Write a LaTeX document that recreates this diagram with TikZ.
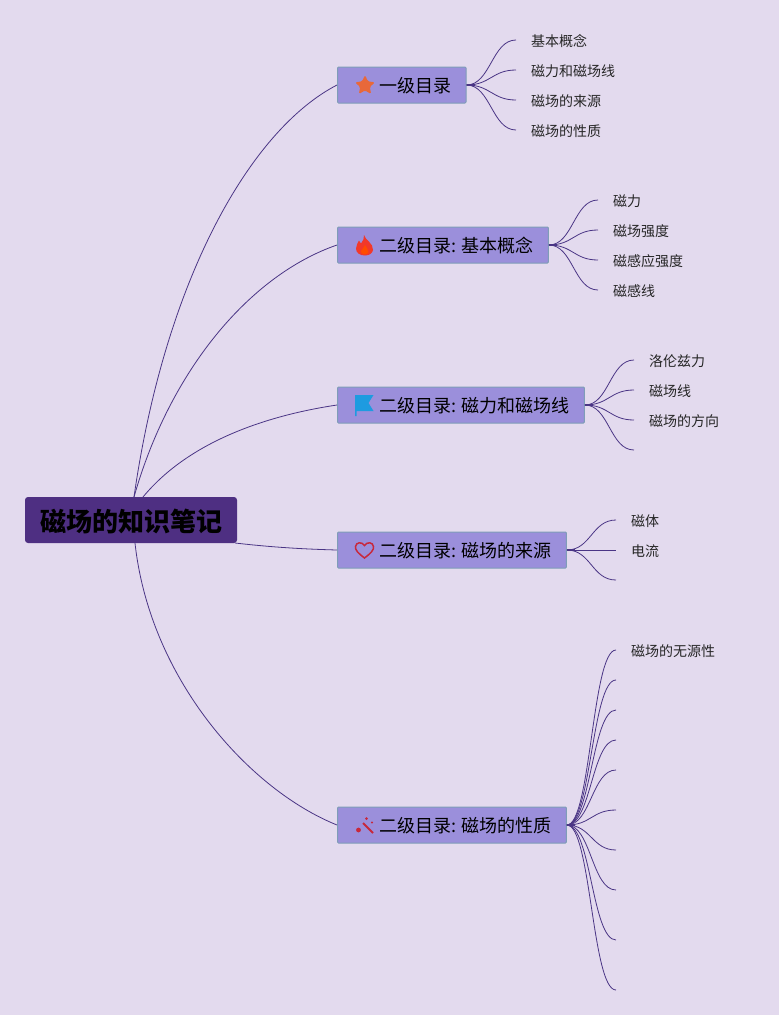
\documentclass[tikz,border=0pt]{standalone}
\usepackage{fontspec}
\setmainfont{Noto Sans CJK SC}
\usetikzlibrary{positioning,shapes.geometric}
\definecolor{paper}{HTML}{E3DAEE}
\definecolor{rootfill}{HTML}{4E2F82}
\definecolor{boxfill}{HTML}{9B8FDB}
\definecolor{boxedge}{HTML}{7F9DB8}
\definecolor{wire}{HTML}{4A3585}
\definecolor{staricon}{HTML}{E8683A}
\definecolor{flagicon}{HTML}{1E9BE0}
\definecolor{flameicon}{HTML}{F2382A}
\definecolor{wandicon}{HTML}{C8283C}
\tikzset{
  rootbox/.style={fill=rootfill,rounded corners=3pt,minimum width=212pt,minimum height=46pt,inner sep=0pt,text height=25pt,text depth=3pt,font=\fontsize{26}{30}\selectfont\bfseries},
  catbox/.style={draw=boxedge,line width=1pt,fill=boxfill,rounded corners=1pt,anchor=west,minimum height=36pt,inner xsep=0pt,text height=17pt,text depth=2pt,font=\fontsize{18}{22}\selectfont},
  leaf/.style={anchor=west,inner sep=0pt,outer xsep=15pt,text height=14pt,text depth=1.6pt,font=\fontsize{14}{18}\selectfont,text=black!85},
  branch/.style={draw=wire,line width=0.8pt},
  stub/.style={draw=wire,line width=1.6pt},
  fan/.style={to path={.. controls +(24,0) and +(-24,0) .. (\tikztotarget)}}
}
\begin{document}
\begin{tikzpicture}[x=1pt,y=-1pt]
\useasboundingbox [fill=paper] (0,0) rectangle (779,1015);
% main nodes
\node [rootbox] (root) at (131,520) {磁场的知识笔记};
\coordinate (rootupa) at (134,497);
\coordinate (rootupb) at (143,497);
\coordinate (rootside) at (235,543);
\coordinate (rootdown) at (135,543);
\node [catbox] (catone) at (337,85) {\hspace*{42pt}一级目录\hspace*{14.5pt}};
\node [catbox] (cattwo) at (337,245) {\hspace*{42pt}二级目录: 基本概念\hspace*{14.5pt}};
\node [catbox] (catthree) at (337,405) {\hspace*{42pt}二级目录: 磁力和磁场线\hspace*{14.5pt}};
\node [catbox] (catfour) at (337,550) {\hspace*{42pt}二级目录: 磁场的来源\hspace*{14.5pt}};
\node [catbox] (catfive) at (337,825) {\hspace*{42pt}二级目录: 磁场的性质\hspace*{14.5pt}};
% root to boxes
\draw [branch] (rootupa) .. controls (165,280) and (250,130) .. (catone.west);
\draw [branch] (rootupa) .. controls (170,370) and (250,275) .. (cattwo.west);
\draw [branch] (rootupb) .. controls (190,440) and (270,415) .. (catthree.west);
\draw [branch] (rootside) .. controls (270,547) and (300,549) .. (catfour.west);
\draw [branch] (rootdown) .. controls (150,680) and (250,790) .. (catfive.west);
% icons
\node [star,star points=5,star point ratio=2.1,fill=staricon,rounded corners=1.5pt,inner sep=0pt,minimum size=21pt] (staricon) at (365,85.5) {};
\fill [flameicon] (364,235) .. controls (365,240) and (373.5,243) .. (373,250) .. controls (372.5,253.5) and (369,255.5) .. (365,255.5) .. controls (360,255.5) and (356,253) .. (356,248.5) .. controls (356,245) and (358,243) .. (359,240.5) .. controls (360,242) and (360.5,243) .. (361,243.5) .. controls (363,241) and (364.5,238) .. (364,235) -- cycle;
\fill [orange!60!red] (365,245) .. controls (366,248) and (369,249.5) .. (368.5,252) .. controls (368,253.5) and (366.5,254.5) .. (364.5,254.5) .. controls (362,254.5) and (360.5,252.5) .. (361,251) .. controls (361.5,249) and (364.5,248) .. (365,245) -- cycle;
\fill [flagicon] (355,395) -- (373.5,395) -- (368.5,403) -- (373.5,411) -- (356.5,411) -- (356.5,416) -- (355,416) -- cycle;
\draw [wandicon,line width=1.5pt] (364.5,558) .. controls (358,553) and (355,550) .. (355.5,546.5) .. controls (356,542) and (362,541.5) .. (364.5,545.5) .. controls (367,541.5) and (373,542) .. (373.5,546.5) .. controls (374,550) and (371,553) .. (364.5,558) -- cycle;
\draw [wandicon,line width=1.8pt] (363,823) -- (373,833);
\fill [wandicon] (358.5,830) circle (2.4) (366.5,818.5) circle (1.5) (372,822.5) circle (1.2);
% first box
\draw [stub] (catone.east) -- +(8,0);
\node [leaf] (leafaa) at (516,40) {基本概念};
\node [leaf] (leafab) at (516,70) {磁力和磁场线};
\node [leaf] (leafac) at (516,100) {磁场的来源};
\node [leaf] (leafad) at (516,130) {磁场的性质};
\draw [branch] (catone.east) to [fan] (leafaa.west);
\draw [branch] (catone.east) to [fan] (leafab.west);
\draw [branch] (catone.east) to [fan] (leafac.west);
\draw [branch] (catone.east) to [fan] (leafad.west);
% second box
\draw [stub] (cattwo.east) -- +(8,0);
\node [leaf] (leafba) at (598,200) {磁力};
\node [leaf] (leafbb) at (598,230) {磁场强度};
\node [leaf] (leafbc) at (598,260) {磁感应强度};
\node [leaf] (leafbd) at (598,290) {磁感线};
\draw [branch] (cattwo.east) to [fan] (leafba.west);
\draw [branch] (cattwo.east) to [fan] (leafbb.west);
\draw [branch] (cattwo.east) to [fan] (leafbc.west);
\draw [branch] (cattwo.east) to [fan] (leafbd.west);
% third box
\draw [stub] (catthree.east) -- +(8,0);
\node [leaf] (leafca) at (634,360) {洛伦兹力};
\node [leaf] (leafcb) at (634,390) {磁场线};
\node [leaf] (leafcc) at (634,420) {磁场的方向};
\coordinate (leafcd) at (634,450);
\draw [branch] (catthree.east) to [fan] (leafca.west);
\draw [branch] (catthree.east) to [fan] (leafcb.west);
\draw [branch] (catthree.east) to [fan] (leafcc.west);
\draw [branch] (catthree.east) to [fan] (leafcd);
% fourth box
\draw [stub] (catfour.east) -- +(8,0);
\node [leaf] (leafda) at (616,520) {磁体};
\node [leaf] (leafdb) at (616,550) {电流};
\coordinate (leafdc) at (616,580);
\draw [branch] (catfour.east) to [fan] (leafda.west);
\draw [branch] (catfour.east) to [fan] (leafdb.west);
\draw [branch] (catfour.east) to [fan] (leafdc);
% fifth box
\draw [stub] (catfive.east) -- +(8,0);
\node [leaf] (leafea) at (616,650) {磁场的无源性};
\coordinate (leafeb) at (616,680);
\coordinate (leafec) at (616,710);
\coordinate (leafed) at (616,740);
\coordinate (leafee) at (616,770);
\coordinate (leafef) at (616,810);
\coordinate (leafeg) at (616,850);
\coordinate (leafeh) at (616,890);
\coordinate (leafei) at (616,940);
\coordinate (leafej) at (616,990);
\draw [branch] (catfive.east) to [fan] (leafea.west);
\draw [branch] (catfive.east) to [fan] (leafeb);
\draw [branch] (catfive.east) to [fan] (leafec);
\draw [branch] (catfive.east) to [fan] (leafed);
\draw [branch] (catfive.east) to [fan] (leafee);
\draw [branch] (catfive.east) to [fan] (leafef);
\draw [branch] (catfive.east) to [fan] (leafeg);
\draw [branch] (catfive.east) to [fan] (leafeh);
\draw [branch] (catfive.east) to [fan] (leafei);
\draw [branch] (catfive.east) to [fan] (leafej);
\end{tikzpicture}
\end{document}
